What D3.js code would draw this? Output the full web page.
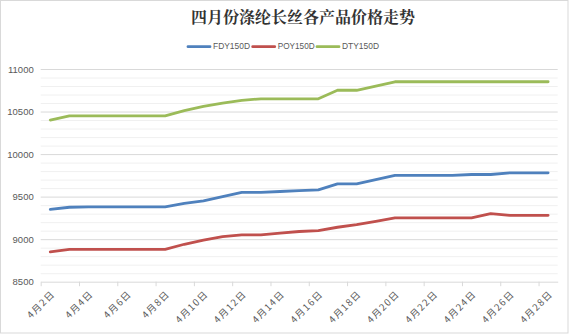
<!DOCTYPE html>
<html>
<head>
<meta charset="utf-8">
<script src="https://cdn.jsdelivr.net/npm/d3@7"></script>
<style>
html,body{margin:0;padding:0;background:#fff;}
svg{display:block;}
</style>
</head>
<body>
<svg id="chart" width="570" height="335"></svg>
<script>
// ---- data ----
const days = [2,3,4,5,6,7,8,9,10,11,12,13,14,15,16,17,18,19,20,21,22,23,24,25,26,27,28];
const fdy = [9350,9375,9380,9380,9380,9380,9380,9420,9450,9500,9550,9550,9560,9570,9580,9650,9650,9700,9750,9750,9750,9750,9760,9760,9780,9780,9780];
const poy = [8850,8880,8880,8880,8880,8880,8880,8940,8990,9030,9050,9050,9070,9090,9100,9140,9170,9210,9250,9250,9250,9250,9250,9300,9280,9280,9280];
const dty = [10400,10450,10450,10450,10450,10450,10450,10510,10560,10600,10630,10650,10650,10650,10650,10750,10750,10800,10850,10850,10850,10850,10850,10850,10850,10850,10850];
const seriesNames = ["FDY150D","POY150D","DTY150D"];
const seriesColors = ["#4F81BD","#C0504D","#9BBB59"];
const yTicks = [8500,9000,9500,10000,10500,11000];
const labelDays = [2,4,6,8,10,12,14,16,18,20,22,24,26,28];
const title = "四月份涤纶长丝各产品价格走势";

const svg = d3.select("#chart");
const pL = 40.7, pR = 557.7, pT = 69, pB = 281.7;

// border
svg.append("rect").attr("x",0.5).attr("y",0.5).attr("width",567.5).attr("height",332.5)
  .attr("fill","#fff").attr("stroke","#d9d9d9").attr("stroke-width",1);

const x = d3.scaleLinear().domain([1.5, 28.5]).range([pL, pR]);
const y = d3.scaleLinear().domain([8500, 11000]).range([pB, pT]);

// minor gridlines
const minor = d3.range(8600, 11000, 100).filter(v => v % 500 !== 0);
svg.append("g").attr("transform",`translate(${pL},0)`)
  .call(d3.axisLeft(y).tickValues(minor).tickSize(-(pR-pL)).tickFormat(""))
  .call(g => g.select(".domain").remove())
  .call(g => g.selectAll("line").attr("stroke","#f0f0f0").attr("stroke-width",1));

// major gridlines
svg.append("g").attr("transform",`translate(${pL},0)`)
  .call(d3.axisLeft(y).tickValues(yTicks.filter(v=>v>8500)).tickSize(-(pR-pL)).tickFormat(""))
  .call(g => g.select(".domain").remove())
  .call(g => g.selectAll("line").attr("stroke","#d9d9d9").attr("stroke-width",1));

// y labels
svg.append("g").attr("transform",`translate(${pL},0)`)
  .call(d3.axisLeft(y).tickValues(yTicks).tickSize(0).tickPadding(7).tickFormat(d3.format("d")))
  .call(g => g.select(".domain").remove())
  .call(g => g.selectAll("text").attr("fill","#595959").attr("font-size","9.5px")
        .attr("font-family","'Liberation Sans', Arial, sans-serif"));

// x axis: tick marks between categories
const tickBounds = d3.range(1.5, 28, 2);
svg.append("g").attr("transform",`translate(0,${pB})`)
  .call(d3.axisBottom(x).tickValues(tickBounds).tickSize(4.5).tickFormat("").tickSizeOuter(0))
  .call(g => g.select(".domain").attr("stroke","#d9d9d9"))
  .call(g => g.selectAll(".tick line").attr("stroke","#d9d9d9"));

// x labels
const xl = svg.append("g").attr("transform",`translate(0,${pB})`)
  .call(d3.axisBottom(x).tickValues(labelDays).tickSize(0).tickFormat(d => `4月${d}日`))
  .call(g => g.select(".domain").remove());
xl.selectAll("text")
  .attr("fill","#595959").attr("font-size","9.5px")
  .attr("font-family","'Noto Sans CJK SC', sans-serif")
  .attr("letter-spacing","1.3px")
  .attr("text-anchor","end")
  .attr("dy",null).attr("y",null)
  .attr("transform","translate(3,11) rotate(-45)")
  .attr("dominant-baseline","middle");

// lines
const allSeries = [fdy, poy, dty];
const line = d3.line().x((d,i) => x(days[i])).y(d => y(d));
allSeries.forEach((vals, k) => {
  svg.append("path").datum(vals).attr("d", line)
    .attr("fill","none").attr("stroke",seriesColors[k]).attr("stroke-width",2.8)
    .attr("stroke-linejoin","round").attr("stroke-linecap","round");
});

// title
svg.append("text").attr("x",303).attr("y",19).attr("text-anchor","middle")
  .attr("dominant-baseline","middle")
  .attr("font-family","'Noto Serif CJK SC','Noto Sans CJK SC', serif")
  .attr("font-weight","bold").attr("font-size","16px").attr("fill","#333")
  .text(title);

// legend
const legendStarts = [188, 252.7, 317];
const ly = 46.7;
seriesNames.forEach((n,k) => {
  const g = svg.append("g");
  g.append("line").attr("x1",legendStarts[k]).attr("x2",legendStarts[k]+22)
    .attr("y1",ly).attr("y2",ly).attr("stroke",seriesColors[k]).attr("stroke-width",2.8)
    .attr("stroke-linecap","round");
  g.append("text").attr("x",legendStarts[k]+25).attr("y",ly).attr("dominant-baseline","middle")
    .attr("font-family","'Liberation Sans', Arial, sans-serif").attr("font-size","8.5px")
    .attr("textLength",37).attr("lengthAdjust","spacingAndGlyphs")
    .attr("fill","#595959").text(n);
});
</script>
</body>
</html>
